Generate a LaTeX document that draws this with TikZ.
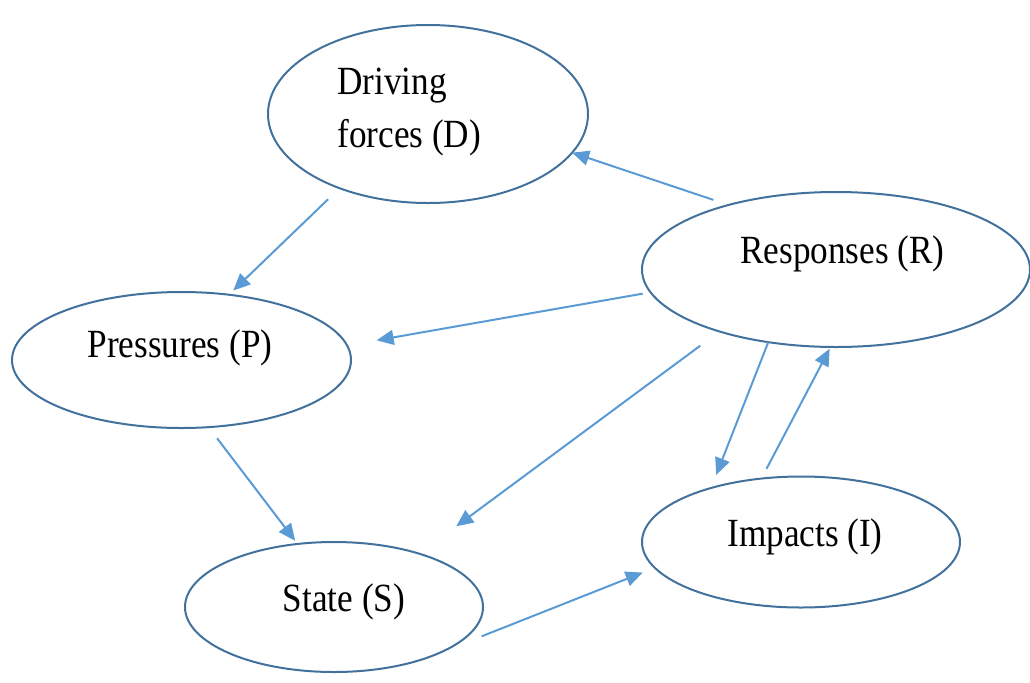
\documentclass[tikz,border=0pt]{standalone}
\usepackage{fontspec}
\setmainfont[FakeStretch=0.88]{Liberation Serif}
\usepackage{tikz}
\usetikzlibrary{arrows.meta,shapes.geometric}
\definecolor{ringblue}{HTML}{41719C}
\definecolor{flowblue}{HTML}{5B9BD5}
\tikzset{
  stage/.style={
    ellipse, draw=ringblue, line width=1pt, fill=white,
    inner sep=0pt, outer sep=0pt
  },
  stagetext/.style={
    font=\fontsize{20}{26.5}\selectfont, inner sep=0pt, text=black
  },
  flow/.style={
    -{Triangle[length=8.5pt,width=7.5pt]}, line width=1pt, color=flowblue
  },
}

\begin{document}
\begin{tikzpicture}[x=0.5pt, y=-0.5pt]
  \useasboundingbox (0,0) rectangle (1030,682);

  % DPSIR stages
  \node[stage, minimum width=160pt, minimum height=89pt] (D) at (428,114) {};
  \node[stage, minimum width=169.5pt, minimum height=68pt] (P) at (181.5,360) {};
  \node[stage, minimum width=194pt, minimum height=77.5pt] (R) at (836,269.5) {};
  \node[stage, minimum width=149pt, minimum height=65pt] (S) at (334,607) {};
  \node[stage, minimum width=159pt, minimum height=65.5pt] (I) at (801,542) {};

  % Labels
  \node[stagetext, anchor=west, align=left] (Dt) at (337,112.5) {Driving\\forces (D)};
  \node[stagetext, anchor=base] (Pt) at (180,357) {Pressures (P)};
  \node[stagetext, anchor=base] (Rt) at (842.5,263) {Responses (R)};
  \node[stagetext, anchor=base] (St) at (344,611) {State (S)};
  \node[stagetext, anchor=base] (It) at (805,546) {Impacts (I)};

  % Causal chain
  \draw[flow, shorten <=8pt, shorten >=3pt] (D.220) -- (P.54);
  \draw[flow, shorten <=7pt, shorten >=2pt] (P.292) -- (S.120);
  \draw[flow, shorten <=26pt, shorten >=6.5pt] (S.334) -- (I.190);
  \draw[flow, shorten <=5.5pt, shorten >=1pt] (I.122) -- (R.266);

  % Feedback from responses
  \draw[flow, shorten <=8pt] (R.149) -- (D.345);
  \draw[flow, shorten <=4pt, shorten >=15pt] (R.187) -- (P.5);
  \draw[flow, shorten <=12pt, shorten >=23pt] (R.208) -- (S.32);
  \draw[flow, shorten >=7pt] (R.227) -- (I.149);
\end{tikzpicture}
\end{document}
